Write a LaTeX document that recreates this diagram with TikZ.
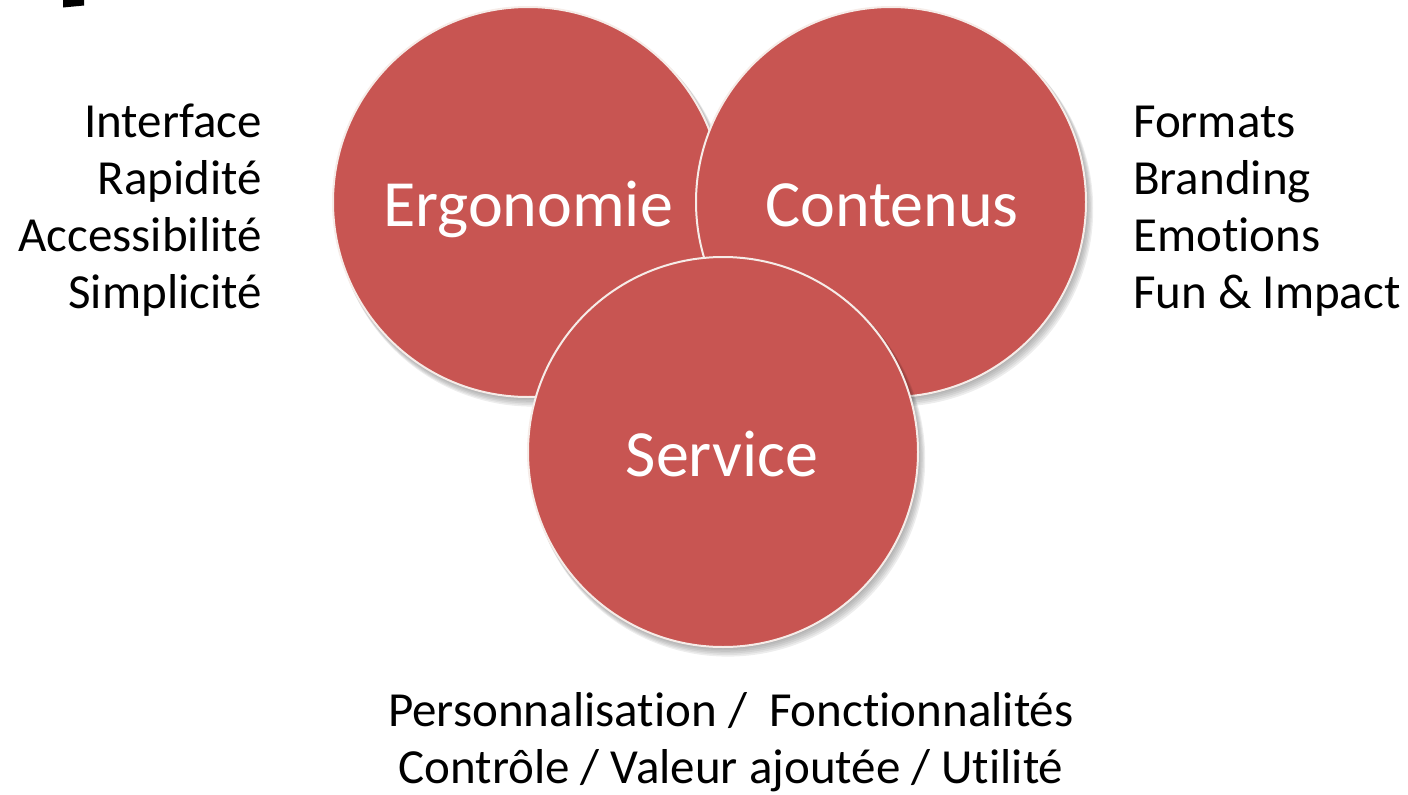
\documentclass[tikz,border=0pt]{standalone}
\usepackage{fontspec}
\setmainfont{Carlito}[RawFeature={-liga,-clig,-dlig}]
\definecolor{circfill}{HTML}{C85552}
\definecolor{circedge}{HTML}{F6ECE8}
\usetikzlibrary{calc}
\tikzset{
  bubble/.style={circle, minimum size=390pt, inner sep=0pt, fill=circfill, draw=circedge, line width=2pt},
  bubbletext/.style={inner sep=0pt, anchor=base, text=white, font=\fontsize{66}{79}\selectfont},
  sidetext/.style={inner sep=0pt, font=\fontsize{49}{57}\selectfont, text=black},
}
\newcommand{\bubbleshadow}[2]{%
  \foreach \k/\o in {1/0.05,2/0.05,3/0.05,4/0.06,5/0.06,6/0.07}{%
    \fill[black, opacity=\o] ($(#1,#2)+(0.8*\k pt,-1.2*\k pt)$) circle[radius=195pt+0.4*\k pt];
  }%
}
\begin{document}
\begin{tikzpicture}[x=1pt,y=-1pt]
\useasboundingbox (0,0) rectangle (1408,795);
\fill[white] (0,0) rectangle (1408,795);
% black mark top left
\fill[black] (63,0) -- (84,0) -- (84,5.5) -- (63,7.5) -- cycle;
% Ergonomie
\bubbleshadow{528}{202}
\node[bubble] (ergo) at (528,202) {};
% Contenus
\bubbleshadow{891}{202}
\node[bubble] (cont) at (891,202) {};
% Service
\bubbleshadow{723}{452}
\node[bubble] (serv) at (723,452) {};
\node[bubbletext] (ergot) at (528,226) {Ergonomie};
\node[bubbletext] (contt) at (892,226) {Contenus};
\node[bubbletext] (servt) at (722,476) {Service};
% left texts
\node[sidetext, anchor=base east] (l1) at (262,137) {Interface};
\node[sidetext, anchor=base east] (l2) at (262,194) {Rapidité};
\node[sidetext, anchor=base east] (l3) at (262,251) {Accessibilité};
\node[sidetext, anchor=base east] (l4) at (262,308) {Simplicité};
% right texts
\node[sidetext, anchor=base west] (r1) at (1133,137) {Formats};
\node[sidetext, anchor=base west] (r2) at (1133,194) {Branding};
\node[sidetext, anchor=base west] (r3) at (1133,251) {Emotions};
\node[sidetext, anchor=base west] (r4) at (1133,308) {Fun \& Impact};
% bottom texts
\node[sidetext, anchor=base] (b1) at (731,726) {Personnalisation /\ \ Fonctionnalités};
\node[sidetext, anchor=base] (b2) at (731,783) {Contrôle / Valeur ajoutée / Utilité};
\end{tikzpicture}
\end{document}
